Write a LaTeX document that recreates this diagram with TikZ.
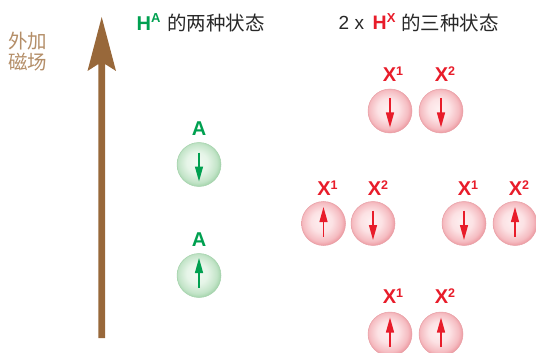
\documentclass[tikz,border=0pt]{standalone}
\usepackage{fontspec}
\setmainfont{Liberation Sans}
\newfontfamily\cjk{Noto Sans CJK SC}
\usetikzlibrary{arrows.meta}
\definecolor{spinred}{RGB}{232,28,42}
\definecolor{spingreen}{RGB}{0,160,80}
\definecolor{fieldbrown}{RGB}{152,104,58}
\definecolor{fieldtan}{RGB}{180,142,104}
\definecolor{titlegray}{RGB}{40,40,40}
\definecolor{pinkC}{RGB}{254,240,241}
\definecolor{pinkM}{RGB}{249,205,209}
\definecolor{pinkE}{RGB}{236,150,158}
\definecolor{pinkL}{RGB}{232,160,166}
\definecolor{greenC}{RGB}{242,250,243}
\definecolor{greenM}{RGB}{210,236,214}
\definecolor{greenE}{RGB}{160,210,168}
\definecolor{greenL}{RGB}{165,210,172}
\pgfdeclareradialshading{redball}{\pgfpoint{-3bp}{3bp}}{color(0bp)=(pinkC); color(12bp)=(pinkC!60!pinkM); color(22bp)=(pinkM!70!pinkE); color(27bp)=(pinkE); color(50bp)=(pinkE)}
\pgfdeclareradialshading{greenball}{\pgfpoint{-3bp}{3bp}}{color(0bp)=(greenC); color(12bp)=(greenC!60!greenM); color(22bp)=(greenM!70!greenE); color(27bp)=(greenE); color(50bp)=(greenE)}
\tikzset{
  redspin/.style={circle, minimum size=44pt, inner sep=0pt, shading=redball, draw=pinkL, line width=0.5pt},
  greenspin/.style={circle, minimum size=44pt, inner sep=0pt, shading=greenball, draw=greenL, line width=0.5pt},
  spinarrow/.style={line width=1.4pt, -{Triangle[length=15pt,width=8pt]}},
  xlab/.style={font=\fontsize{20}{20}\selectfont\bfseries, text=spinred, inner sep=0pt},
  alab/.style={font=\fontsize{20}{20}\selectfont\bfseries, text=spingreen, inner sep=0pt},
  titletext/.style={font=\fontsize{19}{19}\selectfont, text=titlegray, inner sep=0pt, anchor=base west},
}
\newcommand{\supx}[1]{\raisebox{5.8pt}{\fontsize{12.5}{12.5}\selectfont #1}}
\newcommand{\suph}[1]{\raisebox{7.5pt}{\fontsize{13}{13}\selectfont\bfseries #1}}
\begin{document}
\begin{tikzpicture}[x=1pt,y=-1pt]
\useasboundingbox (0,0) rectangle (536,353);
% field arrow
\fill[fieldbrown] (101.7,17) -- (116,71) -- (105,64) -- (105,338) -- (98.4,338) -- (98.4,64) -- (87.5,71) -- cycle;
\node[font=\cjk\fontsize{19.5}{21}\selectfont, text=fieldtan, align=left, inner sep=0pt, anchor=north west] (field) at (8,32) {外加\\磁场};
% titles
\node[titletext, text=spingreen, font=\fontsize{20}{20}\selectfont\bfseries] (ha) at (136.5,30.5) {H\suph{A}};
\node[titletext, font=\cjk\fontsize{19.5}{19.5}\selectfont] (hat) at (167,30.5) {的两种状态};
\node[titletext] (two) at (338.5,30) {2 x};
\node[titletext, text=spinred, font=\fontsize{19.5}{19.5}\selectfont\bfseries] (hx) at (372.5,30) {H\suph{X}};
\node[titletext, font=\cjk\fontsize{19.5}{19.5}\selectfont] (hxt) at (401,30.5) {的三种状态};
% A spins
\node[greenspin] (a1) at (199,164.5) {};
\node[greenspin] (a2) at (199,275.5) {};
\node[alab] (la1) at (199,129) {A};
\node[alab] (la2) at (199,240) {A};
\draw[spinarrow, spingreen] (a1.center) ++(0,-12) -- ++(0,29);
\draw[spinarrow, spingreen] (a2.center) ++(0,12) -- ++(0,-29.5);
% X spins: top (down,down)
\node[redspin] (t1) at (390,111) {};
\node[redspin] (t2) at (441,111) {};
\node[xlab] (lt1) at (393,74) {X\supx{1}};
\node[xlab] (lt2) at (445,74) {X\supx{2}};
\draw[spinarrow, spinred] (t1.center) ++(0,-13) -- ++(0,29.5);
\draw[spinarrow, spinred] (t2.center) ++(0,-13) -- ++(0,29.5);
% middle left (up,down)
\node[redspin] (m1) at (323.5,223.5) {};
\node[redspin] (m2) at (373,223.5) {};
\node[xlab] (lm1) at (327.5,188) {X\supx{1}};
\node[xlab] (lm2) at (378,188) {X\supx{2}};
\draw[spinarrow, spinred] (m1.center) ++(0,13) -- ++(0,-29.5);
\draw[spinarrow, spinred] (m2.center) ++(0,-13) -- ++(0,29.5);
% middle right (down,up)
\node[redspin] (r1) at (464,223.5) {};
\node[redspin] (r2) at (515,223.5) {};
\node[xlab] (lr1) at (468,188) {X\supx{1}};
\node[xlab] (lr2) at (519,188) {X\supx{2}};
\draw[spinarrow, spinred] (r1.center) ++(0,-13) -- ++(0,29.5);
\draw[spinarrow, spinred] (r2.center) ++(0,13) -- ++(0,-29.5);
% bottom (up,up)
\node[redspin] (b1) at (390,334) {};
\node[redspin] (b2) at (441,334) {};
\node[xlab] (lb1) at (393,296.5) {X\supx{1}};
\node[xlab] (lb2) at (445,296.5) {X\supx{2}};
\draw[spinarrow, spinred] (b1.center) ++(0,13) -- ++(0,-29.5);
\draw[spinarrow, spinred] (b2.center) ++(0,13) -- ++(0,-29.5);
\end{tikzpicture}
\end{document}
